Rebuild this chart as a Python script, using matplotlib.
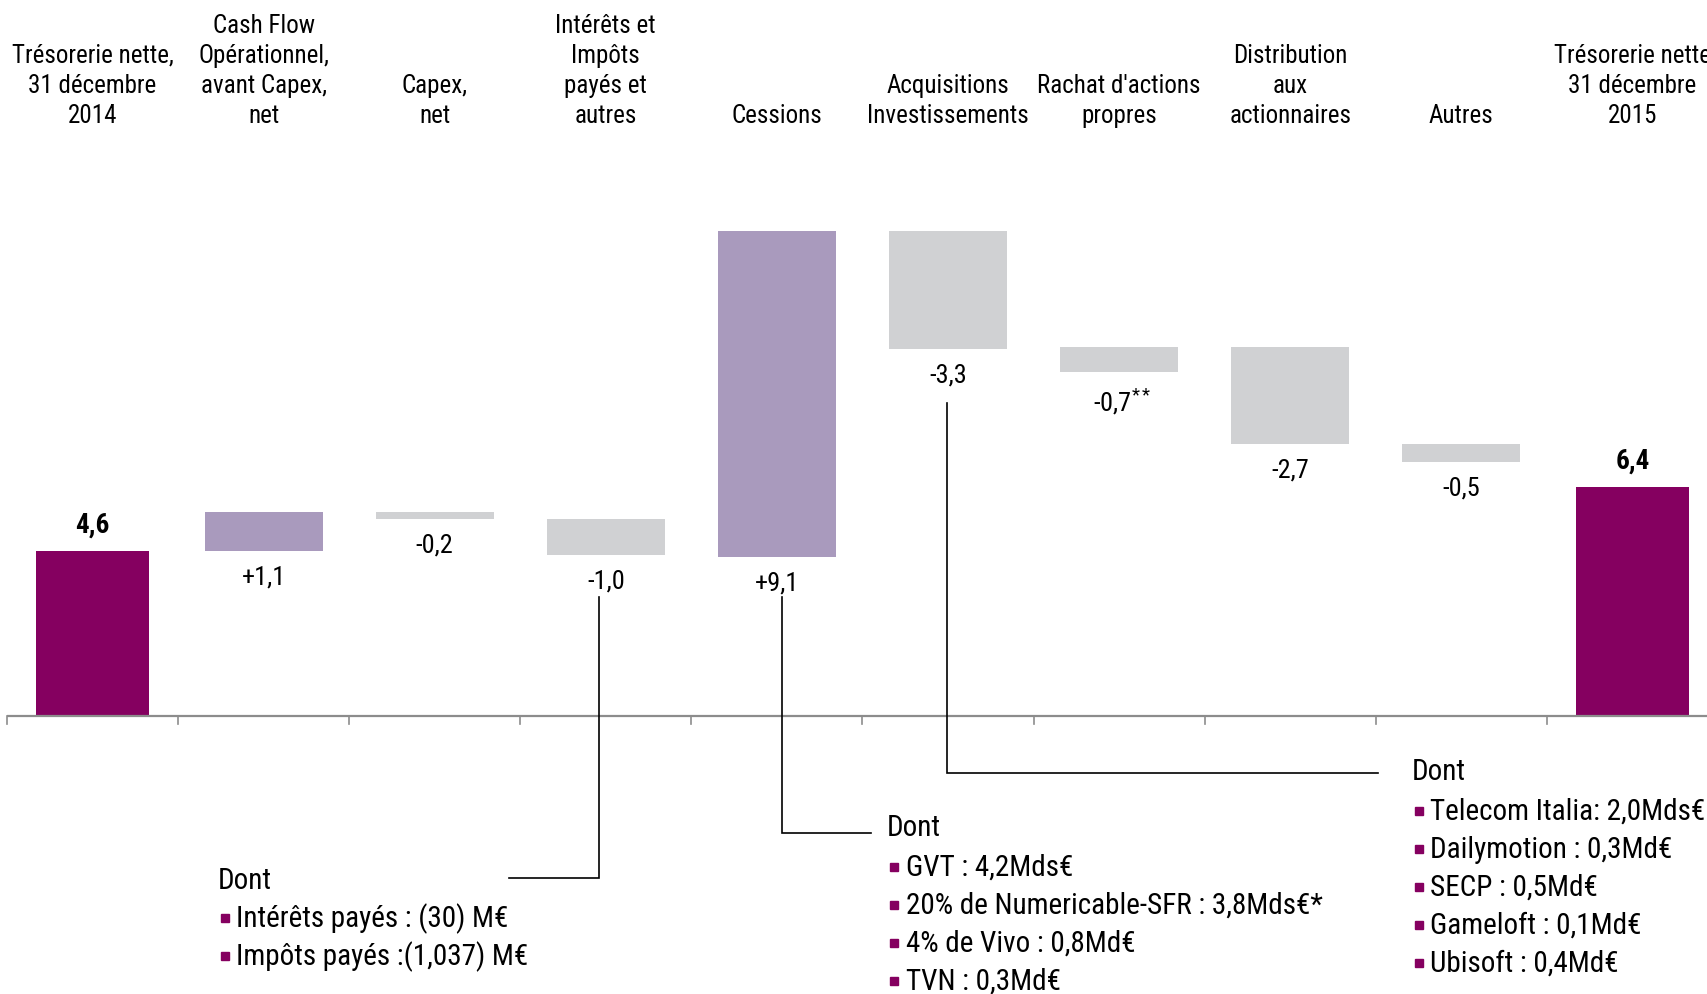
import matplotlib
matplotlib.use("Agg")
import matplotlib.pyplot as plt
import numpy as np

FONT = ['Roboto Condensed', 'DejaVu Sans']
plt.rcParams['font.family'] = FONT
plt.rcParams['mathtext.fontset'] = 'custom'
plt.rcParams['mathtext.rm'] = 'Roboto Condensed'
plt.rcParams['mathtext.it'] = 'Roboto Condensed'
plt.rcParams['mathtext.bf'] = 'Roboto Condensed:bold'

# ---------------- data ----------------
categories = ["Trésorerie nette,\n31 décembre\n2014",
              "Cash Flow\nOpérationnel,\navant Capex,\nnet",
              "Capex,\nnet",
              "Intérêts et\nImpôts\npayés et\nautres",
              "Cessions",
              "Acquisitions\nInvestissements",
              "Rachat d'actions\npropres",
              "Distribution\naux\nactionnaires",
              "Autres",
              "Trésorerie nette\n31 décembre\n2015"]
changes = [4.6, 1.1, -0.2, -1.0, 9.1, -3.3, -0.7, -2.7, -0.5, 6.4]
start_levels = [0.0, 4.6, 5.7, 5.5, 4.45, 13.55, 10.3, 10.3, 7.6, 0.0]   # as drawn in the picture
kinds = ['total', 'pos', 'neg', 'neg', 'pos', 'neg', 'neg', 'neg', 'neg', 'total']
value_labels = ["4,6", "+1,1", "-0,2", "-1,0", "+9,1", "-3,3", "-0,7", "-2,7", "-0,5", "6,4"]
value_notes = ["", "", "", "", "", "", "**", "", "", ""]

notes_interets = ["Intérêts payés : (30) M€", "Impôts payés :(1,037) M€"]
notes_cessions = ["GVT : 4,2Mds€", "20% de Numericable-SFR : 3,8Mds€*",
                  "4% de Vivo : 0,8Md€", "TVN : 0,3Md€"]
notes_acquisitions = ["Telecom Italia: 2,0Mds€", "Dailymotion : 0,3Md€", "SECP : 0,5Md€",
                      "Gameloft : 0,1Md€", "Ubisoft : 0,4Md€"]

# ---------------- style ----------------
C_TOTAL = "#850060"
C_POS = "#A99ABD"
C_NEG = "#D0D1D3"
colors = {'total': C_TOTAL, 'pos': C_POS, 'neg': C_NEG}
widths = {'total': 0.66, 'pos': 0.69, 'neg': 0.69}

W, H = 1707, 994
X0, DX = 92.5, 171.1        # pixel centre of first category, spacing
Y0, DY = 716.0, 35.8        # pixel baseline, pixels per unit

fig = plt.figure(figsize=(W / 100, H / 100), dpi=100)
ax = fig.add_axes([0, 0, 1, 1])
ax.set_xlim(-X0 / DX, (W - X0) / DX)
ax.set_ylim(-(H - Y0) / DY, Y0 / DY)
ax.axis('off')


def P(xp, yp):
    """reference pixel -> data coords"""
    return (xp - X0) / DX, (Y0 - yp) / DY


x = np.arange(len(categories))
bottoms = []
heights = []
for s, c, k in zip(start_levels, changes, kinds):
    if k == 'total':
        bottoms.append(0.0); heights.append(c)
    elif c >= 0:
        bottoms.append(s); heights.append(c)
    else:
        bottoms.append(s + c); heights.append(-c)

ax.bar(x, heights, bottom=bottoms, width=[widths[k] for k in kinds],
       color=[colors[k] for k in kinds], zorder=2, linewidth=0)

# value labels
for i, (b, h, k, lab, note) in enumerate(zip(bottoms, heights, kinds, value_labels, value_notes)):
    if k == 'total':
        ax.annotate(lab, xy=(i, b + h), xytext=(0, 9), textcoords='offset points',
                    ha='center', va='bottom', fontsize=19.5, fontweight='bold', color='black')
    else:
        txt = lab + (r"$^{\mathrm{" + note + "}}$" if note else "")
        ax.annotate(txt, xy=(i, b), xytext=(2 if note else 0, -10.5), textcoords='offset points',
                    ha='center', va='top', fontsize=19, color='black')

# category labels on top
for i, cat in enumerate(categories):
    ax.text(i, P(0, 123)[1], cat, ha='center', va='baseline', fontsize=18,
            color='black', linespacing=1.32)

# axis line and ticks
ax.plot([-0.5, ax.get_xlim()[1]], [0, 0], color='#8C8C8C', lw=1.6, zorder=3,
        solid_capstyle='butt')
for t in np.arange(-0.5, len(categories) - 0.5, 1.0):
    ax.plot([t, t], [0, P(0, Y0 + 8)[1]], color='#8C8C8C', lw=1.2, zorder=3)

# callout lines (reference pixel coords)
def poly(pts):
    d = [P(a, b) for a, b in pts]
    ax.plot([p[0] for p in d], [p[1] for p in d], color='black', lw=1.2, zorder=4,
            solid_joinstyle='miter')

poly([(599, 597), (599, 877.5), (509.5, 877.5)])
poly([(782, 597), (782, 833), (871, 833)])
poly([(947, 403), (947, 773), (1378, 773)])

# note blocks
def block(xd, yd, xb, xt, ys, items):
    ax.text(*P(xd, yd), "Dont", ha='left', va='center', fontsize=21, color='black')
    for yy, it in zip(ys, items):
        bx, by = P(xb + 4.5, yy - 1)
        ax.plot([bx], [by], marker='s', markersize=6.2, color=C_TOTAL, linestyle='none', zorder=4)
        ax.text(*P(xt, yy), it, ha='left', va='center', fontsize=21, color='black')

block(218, 881, 221, 236, [919, 957], notes_interets)
block(887, 828, 890, 906, [867.5, 905.5, 943.5, 981.5], notes_cessions)
block(1412, 772, 1415, 1430, [812, 850, 888, 926, 964], notes_acquisitions)

fig.savefig("out.png", dpi=100)
